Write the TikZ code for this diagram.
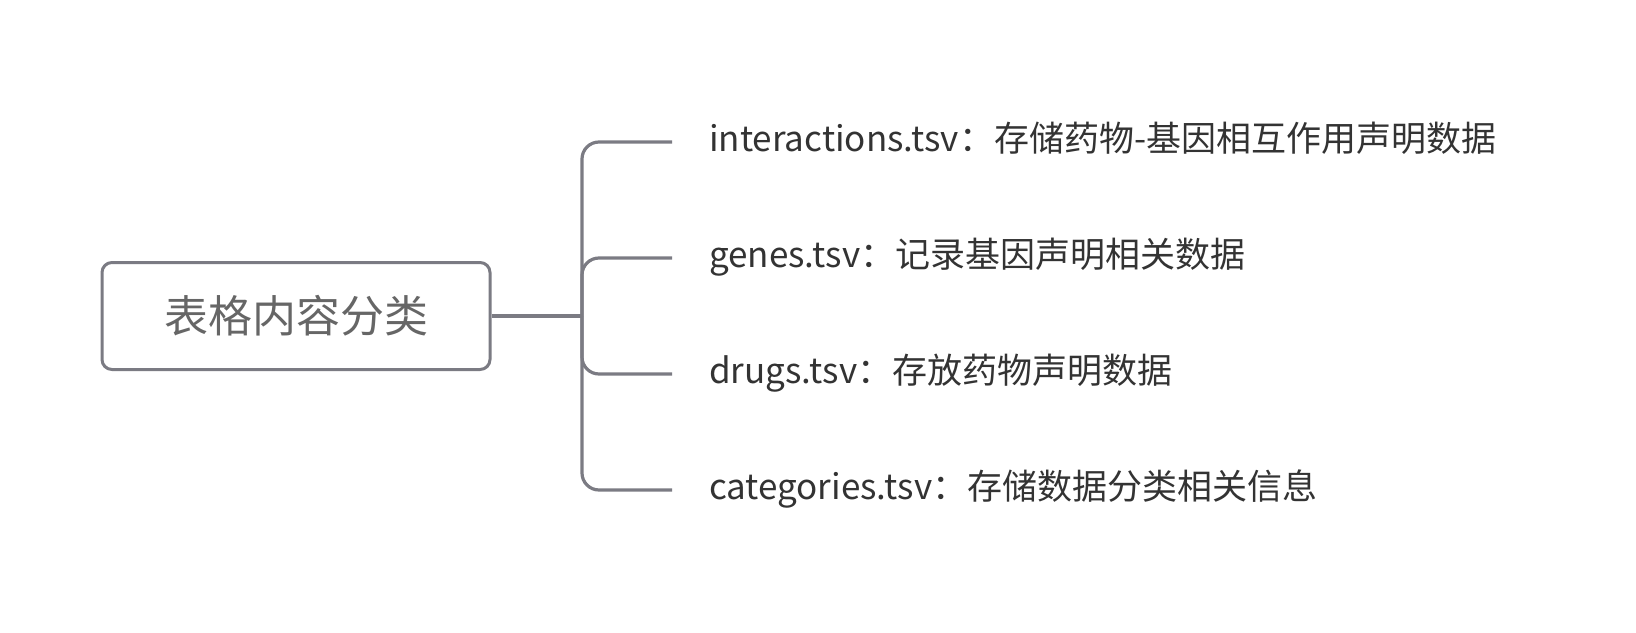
\documentclass[tikz,border=0pt]{standalone}
\usepackage{fontspec}
\setmainfont{Noto Sans CJK SC}
\definecolor{linegray}{HTML}{7B7B83}
\definecolor{rootgray}{HTML}{666666}
\definecolor{leafgray}{HTML}{333333}
\begin{document}
\begin{tikzpicture}[x=1pt,y=-1pt,
  root/.style={draw=linegray,line width=3pt,rounded corners=10pt,
    minimum width=388pt,minimum height=107pt,text=rootgray,
    font=\fontsize{44}{52}\selectfont},
  leaf/.style={anchor=west,inner xsep=37pt,text=leafgray,
    font=\fontsize{35}{42}\selectfont,text height=25pt,text depth=6.3pt},
  branch/.style={draw=linegray,line width=3.2pt,rounded corners=17pt}]
\useasboundingbox (0,0) rectangle (1636,632);
\node[root] (0) at (296,316) {表格内容分类};
\coordinate (t) at (582,316);
\node[leaf] (1) at (672,142) {interactions.tsv：存储药物-基因相互作用声明数据};
\node[leaf] (2) at (672,258) {genes.tsv：记录基因声明相关数据};
\node[leaf] (3) at (672,374) {drugs.tsv：存放药物声明数据};
\node[leaf] (4) at (672,490) {categories.tsv：存储数据分类相关信息};
\path[draw,branch] (0.east) -- (t);
\path[draw,branch] (t) |- (1.west);
\path[draw,branch] (t) |- (2.west);
\path[draw,branch] (t) |- (3.west);
\path[draw,branch] (t) |- (4.west);
\end{tikzpicture}
\end{document}
